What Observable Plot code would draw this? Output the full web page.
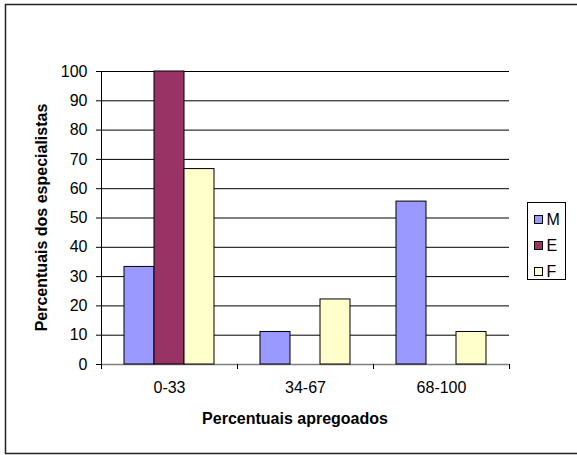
<!DOCTYPE html>
<html>
<head>
<meta charset="utf-8">
<script src="https://cdn.jsdelivr.net/npm/d3@7"></script>
<script src="https://cdn.jsdelivr.net/npm/@observablehq/plot@0.6"></script>
<style>
  html, body { margin: 0; padding: 0; background: #fff; }
  #chart { width: 577px; height: 455px; position: relative; }
  svg { display: block; }
</style>
</head>
<body>
<div id="chart"></div>
<script>
// Ranges of announced percentages (x categories)
const categories = ["0-33", "34-67", "68-100"];
// Groups of specialists
const seriesNames = ["M", "E", "F"];
// Percentage of specialists per range, one array per group
const valuesM = [33.3, 11.1, 55.6];
const valuesE = [100, 0, 0];
const valuesF = [66.7, 22.2, 11.1];
// Y tick values
const yTicks = [0, 10, 20, 30, 40, 50, 60, 70, 80, 90, 100];
const seriesColors = ["#9999FF", "#993366", "#FFFFCC"];
const xTitle = "Percentuais apregoados";
const yTitle = "Percentuais dos especialistas";

const valuesBySeries = {M: valuesM, E: valuesE, F: valuesF};
const rows = [];
categories.forEach((category, i) => {
  seriesNames.forEach(series => {
    rows.push({category, series, value: valuesBySeries[series][i]});
  });
});

const W = 577, H = 455;
const font = "Arial, 'Liberation Sans', sans-serif";
const fs = 16;

const plot = Plot.plot({
  width: W,
  height: H,
  marginTop: 71,
  marginRight: 68,
  marginBottom: 91,
  marginLeft: 101,
  style: {fontFamily: font, fontSize: fs + "px", color: "#000", background: "transparent", overflow: "visible"},
  fx: {domain: categories, padding: 0, label: null, axis: null},
  x: {domain: seriesNames, paddingInner: 0, paddingOuter: 0.76, axis: null},
  y: {domain: [0, 100], label: null, axis: null},
  color: {domain: seriesNames, range: seriesColors},
  marks: [
    Plot.gridY(yTicks, {stroke: "#000", strokeOpacity: 1, strokeWidth: 1}),
    Plot.axisY(yTicks, {tickSize: 5, tickPadding: 9, label: null, stroke: "#000", fontSize: fs}),
    Plot.frame({anchor: "left", facetAnchor: "left", stroke: "#000"}),
    Plot.axisFx({anchor: "bottom", tickSize: 0, tickPadding: 17, label: null, fontSize: fs}),
    Plot.ruleY([0], {stroke: "#808080", strokeWidth: 1.5}),
    Plot.barY(rows.filter(d => d.value > 0), {
      fx: "category", x: "series", y: "value",
      fill: "series", stroke: "#000", strokeWidth: 1
    })
  ]
});

document.getElementById("chart").appendChild(plot);

const svg = d3.select(plot);

// Category boundary ticks under the x axis, from the fx scale
const fxs = plot.scale("fx");
const fxBand = d3.scaleBand()
  .domain(fxs.domain)
  .range(fxs.range)
  .paddingInner(fxs.paddingInner ?? 0)
  .paddingOuter(fxs.paddingOuter ?? 0);
const ys = plot.scale("y");
const y0 = ys.apply(0);
const bounds = fxs.domain.map(d => fxBand(d)).concat([fxBand(fxs.domain[fxs.domain.length - 1]) + fxBand.bandwidth()]);
svg.append("g")
  .attr("stroke", "#000")
  .selectAll("line")
  .data(bounds)
  .join("line")
  .attr("x1", d => d + 0.5).attr("x2", d => d + 0.5)
  .attr("y1", y0).attr("y2", y0 + 5);

// Axis titles
const xMid = (fxs.range[0] + fxs.range[1]) / 2 - 10;
svg.append("text")
  .attr("x", xMid)
  .attr("y", y0 + 60)
  .attr("text-anchor", "middle")
  .attr("font-family", font)
  .attr("font-size", fs)
  .attr("font-weight", "bold")
  .text(xTitle);

const yMid = (ys.apply(0) + ys.apply(100)) / 2;
svg.append("text")
  .attr("transform", `translate(47,${yMid}) rotate(-90)`)
  .attr("text-anchor", "middle")
  .attr("font-family", font)
  .attr("font-size", fs)
  .attr("font-weight", "bold")
  .text(yTitle);

// Legend box at the right
const legend = svg.append("g").attr("transform", "translate(527.5,202.5)");
legend.append("rect")
  .attr("width", 38).attr("height", 77)
  .attr("fill", "#fff").attr("stroke", "#000");
const color = plot.scale("color");
const item = legend.selectAll("g.item")
  .data(color.domain)
  .join("g")
  .attr("class", "item")
  .attr("transform", (d, i) => `translate(7,${17 + i * 26})`);
item.append("rect")
  .attr("x", 0).attr("y", -4).attr("width", 8).attr("height", 8)
  .attr("fill", d => color.apply(d)).attr("stroke", "#000");
item.append("text")
  .attr("x", 12).attr("y", 0).attr("dy", "0.36em")
  .attr("text-anchor", "start")
  .attr("font-family", font).attr("font-size", fs)
  .text(d => d);

// Chart border
svg.append("rect")
  .attr("x", 5.5).attr("y", 4.5)
  .attr("width", 580).attr("height", 449)
  .attr("fill", "none").attr("stroke", "#222").attr("stroke-width", 1.5);
</script>
</body>
</html>
